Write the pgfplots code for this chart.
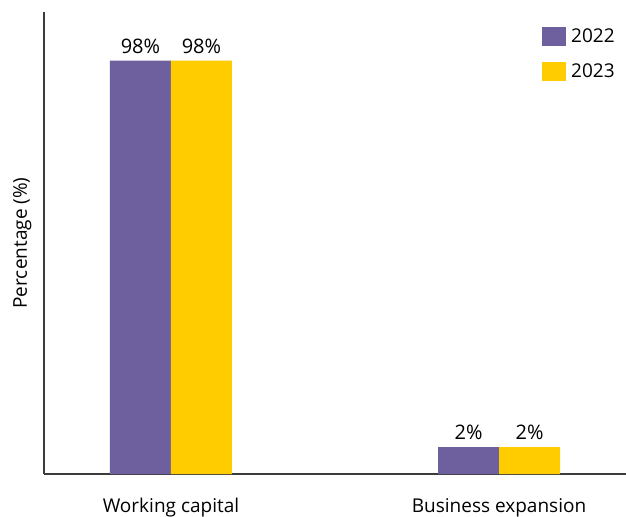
\documentclass[border=0pt]{standalone}
\usepackage{pgfplots}
\pgfplotsset{compat=1.18}
\usepackage{fontspec}
\setmainfont{Open Sans}
\definecolor{cpurple}{HTML}{6E5F9E}
\definecolor{cyellow}{HTML}{FFCC00}
\definecolor{caxis}{HTML}{3C3C3C}
\begin{document}
\begin{tikzpicture}
\useasboundingbox (-44bp,-43bp) rectangle (582bp,474bp);
\begin{axis}[
  at={(0,0)}, anchor=south west,
  width=582bp, height=462bp, scale only axis,
  /pgf/number format/assume math mode=true,
  axis x line*=bottom, axis y line*=left,
  axis line style={caxis, line width=1.6bp},
  xmin=-0.387, xmax=1.387, ymin=0, ymax=114.8,
  xtick={0,1}, xticklabels={Working capital, Business expansion},
  major tick length=0pt, ytick=\empty,
  ybar=0pt, bar width=61bp,
  y filter/.expression={y+4.7},
  point meta=rawy,
  nodes near coords={\pgfmathprintnumber{\pgfplotspointmeta}\%},
  nodes near coords style={font=\fontsize{20bp}{23bp}\selectfont, text=black, anchor=south, inner sep=7bp},
  ticklabel style={font=\fontsize{19bp}{22bp}\selectfont, text=black},
  xticklabel style={yshift=-21bp},
  ylabel={Percentage (\%)},
  ylabel style={font=\fontsize{19bp}{22bp}\selectfont, text=black, yshift=9bp},
  legend style={at={(0.8557,0.9675)}, anchor=north west, draw=none, fill=none,
    font=\fontsize{19bp}{22bp}\selectfont, inner sep=0pt, row sep=15bp,
    cells={anchor=west}, nodes={inner sep=2bp}},
  legend image code/.code={\fill[#1, draw=none] (0bp,-9.5bp) rectangle (24bp,9.5bp);},
  legend cell align=left,
]
\addplot[fill=cpurple, draw=none] coordinates {(0,98) (1,2)};
\addplot[fill=cyellow, draw=none] coordinates {(0,98) (1,2)};
\legend{\hspace{3bp}2022,\hspace{3bp}2023}
\end{axis}
\end{tikzpicture}
\end{document}
